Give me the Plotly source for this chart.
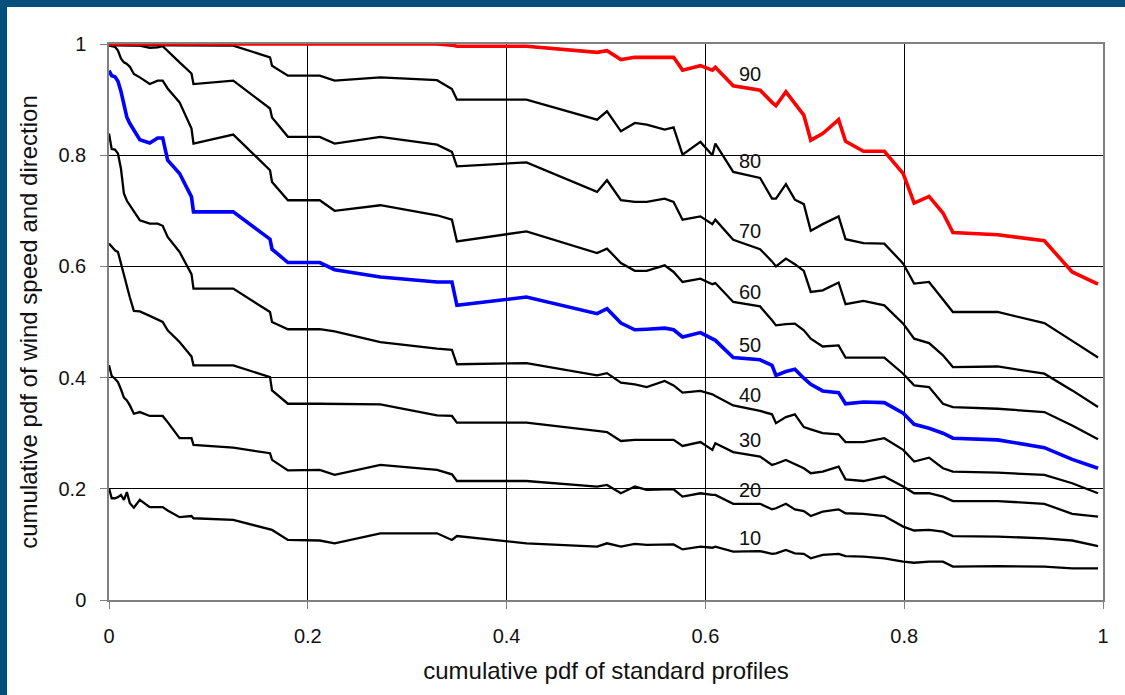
import plotly.graph_objects as go

# cumulative pdf of standard profiles (shared x for all percentile curves)
x_profile = [
    0, 0.0027, 0.006, 0.009, 0.012, 0.015, 0.018, 0.021, 0.025, 0.031,
    0.041, 0.049, 0.054, 0.059, 0.071, 0.083, 0.085, 0.125, 0.162, 0.164,
    0.180, 0.212, 0.227, 0.273, 0.330, 0.345, 0.350, 0.420, 0.491, 0.501,
    0.515, 0.529, 0.541, 0.559, 0.568, 0.577, 0.595, 0.607, 0.610, 0.628,
    0.655, 0.667, 0.671, 0.681, 0.690, 0.699, 0.706, 0.718, 0.734, 0.741,
    0.759, 0.780, 0.799, 0.810, 0.825, 0.839, 0.849, 0.894, 0.941, 0.969, 0.995,
]

p90 = [
    1.0, 1.0, 1.0, 1.0, 1.0, 1.0, 1.0, 1.0, 1.0, 1.0,
    1.0, 1.0, 1.0, 1.0, 1.0, 1.0, 1.0, 1.0, 1.0, 1.0,
    1.0, 1.0, 1.0, 1.0, 1.0, 0.998, 0.996, 0.996, 0.985, 0.988,
    0.972, 0.976, 0.976, 0.976, 0.976, 0.953, 0.961, 0.953, 0.958, 0.925,
    0.917, 0.895, 0.889, 0.914, 0.893, 0.872, 0.827, 0.839, 0.864, 0.825,
    0.807, 0.807, 0.767, 0.714, 0.726, 0.696, 0.661, 0.657, 0.646, 0.590, 0.568,
]
p80 = [
    0.999, 0.998, 0.998, 0.998, 0.998, 0.998, 0.998, 0.998, 0.998, 0.998,
    0.998, 0.998, 0.998, 0.998, 0.998, 0.997, 0.997, 0.997, 0.976, 0.961,
    0.943, 0.943, 0.934, 0.940, 0.935, 0.919, 0.900, 0.900, 0.864, 0.879,
    0.843, 0.858, 0.855, 0.846, 0.850, 0.801, 0.824, 0.800, 0.821, 0.770,
    0.759, 0.722, 0.722, 0.748, 0.720, 0.712, 0.664, 0.676, 0.690, 0.649,
    0.642, 0.641, 0.605, 0.569, 0.572, 0.541, 0.518, 0.518, 0.498, 0.466, 0.436,
]
p70 = [
    0.998, 0.998, 0.998, 0.998, 0.998, 0.998, 0.998, 0.997, 0.997, 0.997,
    0.993, 0.994, 0.996, 0.987, 0.967, 0.947, 0.928, 0.934, 0.884, 0.868,
    0.833, 0.833, 0.821, 0.833, 0.819, 0.806, 0.780, 0.787, 0.734, 0.755,
    0.719, 0.716, 0.716, 0.722, 0.716, 0.684, 0.690, 0.676, 0.684, 0.648,
    0.631, 0.609, 0.600, 0.614, 0.604, 0.592, 0.554, 0.557, 0.571, 0.532,
    0.538, 0.530, 0.497, 0.470, 0.462, 0.440, 0.419, 0.420, 0.407, 0.377, 0.347,
]
p60 = [
    0.997, 0.996, 0.995, 0.988, 0.974, 0.967, 0.964, 0.959, 0.946, 0.940,
    0.928, 0.934, 0.934, 0.920, 0.895, 0.848, 0.821, 0.837, 0.773, 0.752,
    0.719, 0.719, 0.700, 0.710, 0.692, 0.684, 0.645, 0.663, 0.624, 0.632,
    0.606, 0.592, 0.592, 0.602, 0.590, 0.572, 0.578, 0.568, 0.570, 0.536,
    0.528, 0.503, 0.494, 0.496, 0.497, 0.485, 0.470, 0.456, 0.458, 0.436,
    0.436, 0.436, 0.407, 0.386, 0.383, 0.353, 0.347, 0.344, 0.338, 0.314, 0.289,
]
p50 = [
    0.952, 0.943, 0.941, 0.933, 0.915, 0.888, 0.868, 0.857, 0.845, 0.828,
    0.822, 0.831, 0.831, 0.791, 0.767, 0.725, 0.698, 0.698, 0.649, 0.631,
    0.607, 0.607, 0.594, 0.581, 0.572, 0.572, 0.530, 0.545, 0.515, 0.524,
    0.498, 0.486, 0.487, 0.489, 0.486, 0.473, 0.481, 0.471, 0.467, 0.436,
    0.432, 0.422, 0.404, 0.411, 0.415, 0.399, 0.388, 0.376, 0.373, 0.353,
    0.356, 0.355, 0.336, 0.316, 0.309, 0.300, 0.291, 0.288, 0.274, 0.253, 0.237,
]
p40 = [
    0.839, 0.811, 0.810, 0.803, 0.776, 0.731, 0.718, 0.710, 0.697, 0.683,
    0.677, 0.677, 0.673, 0.653, 0.626, 0.586, 0.560, 0.560, 0.518, 0.500,
    0.487, 0.487, 0.483, 0.464, 0.452, 0.450, 0.424, 0.426, 0.404, 0.408,
    0.391, 0.388, 0.383, 0.394, 0.386, 0.373, 0.376, 0.370, 0.367, 0.350,
    0.340, 0.334, 0.318, 0.329, 0.334, 0.311, 0.307, 0.300, 0.298, 0.284,
    0.284, 0.291, 0.270, 0.249, 0.256, 0.237, 0.231, 0.229, 0.225, 0.210, 0.192,
]
p30 = [
    0.641, 0.635, 0.629, 0.626, 0.605, 0.582, 0.564, 0.544, 0.520, 0.519,
    0.511, 0.504, 0.500, 0.485, 0.464, 0.438, 0.422, 0.422, 0.401, 0.377,
    0.353, 0.353, 0.353, 0.352, 0.332, 0.331, 0.319, 0.319, 0.304, 0.302,
    0.286, 0.288, 0.288, 0.288, 0.288, 0.277, 0.284, 0.270, 0.282, 0.266,
    0.258, 0.243, 0.245, 0.252, 0.244, 0.237, 0.228, 0.231, 0.240, 0.217,
    0.214, 0.222, 0.204, 0.192, 0.192, 0.186, 0.178, 0.178, 0.173, 0.155, 0.150,
]
p20 = [
    0.422, 0.403, 0.398, 0.392, 0.379, 0.364, 0.359, 0.350, 0.335, 0.338,
    0.331, 0.331, 0.331, 0.320, 0.291, 0.291, 0.279, 0.274, 0.264, 0.252,
    0.233, 0.234, 0.225, 0.243, 0.234, 0.226, 0.214, 0.214, 0.204, 0.207,
    0.192, 0.204, 0.198, 0.199, 0.199, 0.186, 0.192, 0.189, 0.189, 0.173,
    0.173, 0.163, 0.165, 0.173, 0.163, 0.160, 0.151, 0.159, 0.163, 0.156,
    0.155, 0.151, 0.132, 0.125, 0.126, 0.123, 0.115, 0.114, 0.111, 0.107, 0.097,
]
p10 = [
    0.201, 0.183, 0.183, 0.185, 0.189, 0.180, 0.194, 0.174, 0.166, 0.180,
    0.167, 0.167, 0.167, 0.161, 0.149, 0.151, 0.147, 0.144, 0.128, 0.126,
    0.108, 0.107, 0.102, 0.120, 0.120, 0.108, 0.115, 0.102, 0.096, 0.102,
    0.096, 0.101, 0.099, 0.100, 0.100, 0.091, 0.096, 0.094, 0.096, 0.087,
    0.088, 0.083, 0.084, 0.090, 0.084, 0.083, 0.075, 0.081, 0.083, 0.079,
    0.078, 0.075, 0.069, 0.067, 0.069, 0.069, 0.060, 0.061, 0.060, 0.057, 0.057,
]

percentiles = ["10", "20", "30", "40", "50", "60", "70", "80", "90"]
label_x = 0.645
label_y = [0.112, 0.198, 0.288, 0.368, 0.458, 0.554, 0.664, 0.789, 0.946]

curves = [p10, p20, p30, p40, p50, p60, p70, p80, p90]
colours = {"50": "#0000FF", "90": "#FF0000"}

FONT = "Liberation Sans, Arial, sans-serif"
BAND = "#044e7c"

fig = go.Figure()
for name, ys in zip(percentiles, curves):
    special = name in colours
    fig.add_trace(go.Scatter(
        x=x_profile,
        y=ys,
        mode="lines",
        name=name,
        line=dict(color=colours.get(name, "#000000"), width=3.6 if special else 2.3),
        hoverinfo="skip",
    ))

for name, ly in zip(percentiles, label_y):
    fig.add_annotation(
        x=label_x, y=ly, text=name, showarrow=False,
        font=dict(family=FONT, size=20, color="#111111"),
        xanchor="center", yanchor="middle",
    )

# dark blue frame along the top and left edge of the slide
W, H = 994, 556
fig.add_shape(type="rect", xref="paper", yref="paper", line_width=0, fillcolor=BAND,
              x0=-109 / W, x1=1016 / W, y0=(600 - 7) / H, y1=600 / H)
fig.add_shape(type="rect", xref="paper", yref="paper", line_width=0, fillcolor=BAND,
              x0=-109 / W, x1=(7 - 109) / W, y0=-95 / H, y1=600 / H)

ticks = [0, 0.2, 0.4, 0.6, 0.8, 1]
tick_text = ["0", "0.2", "0.4", "0.6", "0.8", "1"]
axis_common = dict(
    range=[0, 1],
    tickvals=ticks,
    ticktext=tick_text,
    showgrid=True,
    gridcolor="#000000",
    gridwidth=1,
    zeroline=False,
    showline=True,
    linecolor="#808080",
    linewidth=1.5,
    mirror=True,
    ticks="outside",
    ticklen=7,
    tickcolor="#808080",
    tickfont=dict(family=FONT, size=20, color="#111111"),
)

fig.update_layout(
    width=1125,
    height=695,
    margin=dict(l=109, r=22, t=44, b=95),
    paper_bgcolor="white",
    plot_bgcolor="white",
    showlegend=False,
    font=dict(family=FONT, color="#111111"),
    xaxis=dict(
        **axis_common,
        ticklabelstandoff=10,
        title=dict(text="cumulative pdf of standard profiles",
                   font=dict(family=FONT, size=24, color="#111111"), standoff=16),
    ),
    yaxis=dict(
        **axis_common,
        ticklabelstandoff=10,
        title=dict(text="cumulative pdf of wind speed and direction",
                   font=dict(family=FONT, size=24, color="#111111"), standoff=14),
    ),
)

# drop the browser's default body margin so the figure sits at the window origin
fig.write_html(
    "out.html",
    config={"displayModeBar": False},
    post_script="document.body.style.margin='0';",
)
